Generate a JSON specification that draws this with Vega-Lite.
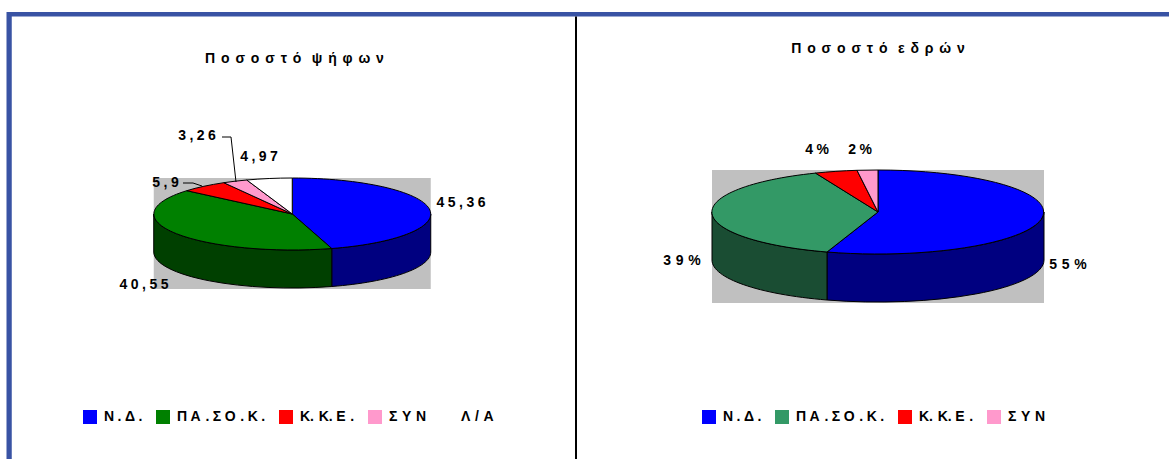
{
"$schema":"https://vega.github.io/schema/vega-lite/v6.json",
"width":1169,"height":459,"padding":0,"autosize":{"type":"none"},"background":"white",
"config":{"view":{"stroke":null},"text":{"font":"Liberation Sans","fontWeight":"bold","fontSize":14,"color":"#000000"}},
"datasets":{
"rows":[
{"panel":"Ποσοστό ψήφων","key":"frame","face":"frame"},
{"panel":"Ποσοστό ψήφων","key":"divider","face":"frame"},
{"panel":"Ποσοστό ψήφων","key":"L_bg","face":"back"},
{"panel":"Ποσοστό εδρών","key":"R_bg","face":"back"},
{"panel":"Ποσοστό ψήφων","key":"L_nd_side","face":"side"},
{"panel":"Ποσοστό ψήφων","key":"L_pasok_side","face":"side"},
{"panel":"Ποσοστό εδρών","key":"R_nd_side","face":"side"},
{"panel":"Ποσοστό εδρών","key":"R_pasok_side","face":"side"},
{"panel":"Ποσοστό ψήφων","key":"L_nd","face":"top","party":"Ν\u2005.\u2005Δ\u2005.","value":45.36,"label":"4\u20055\u2005,\u20053\u20056"},
{"panel":"Ποσοστό ψήφων","key":"L_pasok","face":"top","party":"Π\u2005Α\u2004.\u2005Σ\u2005Ο\u2004.\u2005Κ\u2005.","value":40.55,"label":"4\u20050\u2005,\u20055\u20055"},
{"panel":"Ποσοστό ψήφων","key":"L_kke","face":"top","party":"Κ.\u2004Κ.\u2005Ε\u2004.","value":5.9,"label":"5\u2005,\u20059"},
{"panel":"Ποσοστό ψήφων","key":"L_syn","face":"top","party":"Σ\u2004Υ\u2004Ν","value":3.26,"label":"3\u2005,\u20052\u20056"},
{"panel":"Ποσοστό ψήφων","key":"L_la","face":"top","party":"Λ\u2004/\u2004Α","value":4.97,"label":"4\u2005,\u20059\u20057"},
{"panel":"Ποσοστό εδρών","key":"R_nd","face":"top","party":"Ν\u2005.\u2005Δ\u2005.","value":55,"label":"5\u20045\u2004%"},
{"panel":"Ποσοστό εδρών","key":"R_pasok","face":"top","party":"Π\u2005Α\u2004.\u2005Σ\u2005Ο\u2004.\u2005Κ\u2005.","value":39,"label":"3\u20049\u2004%"},
{"panel":"Ποσοστό εδρών","key":"R_kke","face":"top","party":"Κ.\u2004Κ.\u2005Ε\u2004.","value":4,"label":"4\u2005%"},
{"panel":"Ποσοστό εδρών","key":"R_syn","face":"top","party":"Σ\u2004Υ\u2004Ν","value":2,"label":"2\u2005%"},
{"panel":"Ποσοστό ψήφων","key":"lead_syn","face":"leader"},
{"panel":"Ποσοστό ψήφων","key":"lead_kke","face":"leader"},
{"panel":"Ποσοστό ψήφων","key":"title_L","face":"title","label":"Π\u2004\u200Aο\u2004\u200Aσ\u2004\u200Aο\u2004\u200Aσ\u2004\u200Aτ\u2004\u200Aό\u2004\u2004\u200Aψ\u2004\u200Aή\u2004\u200Aφ\u2004\u200Aω\u2004\u200Aν"},
{"panel":"Ποσοστό εδρών","key":"title_R","face":"title","label":"Π\u2004\u200Aο\u2004\u200Aσ\u2004\u200Aο\u2004\u200Aσ\u2004\u200Aτ\u2004\u200Aό\u2004\u2004\u200Aε\u2004\u200Aδ\u2004\u200Aρ\u2004\u200Aώ\u2004\u200Aν"}
]},
"data":{"name":"rows"},
"encoding":{"x":{"field":"panel","type":"nominal","axis":null,"scale":{"domain":["Ποσοστό ψήφων","Ποσοστό εδρών"]}}},
"resolve":{"scale":{"color":"independent","shape":"independent"}},
"layer":[
{"transform":[{"filter":"datum.face==='frame'||datum.face==='back'"}],
 "mark":{"type":"point","filled":true,"size":4,"opacity":1},
 "encoding":{
  "shape":{"field":"key","type":"nominal","legend":null,"scale":{
   "domain":["frame","divider","L_bg","R_bg"],
   "range":[
    "M-285.75,-217.5L876.75,-217.5L876.75,-213L-280.5,-213L-280.5,229.5L-285.75,229.5Z",
    "M282.75,-213L284.75,-213L284.75,229.5L282.75,229.5Z",
    "M-138.5,-51.5L138.5,-51.5L138.5,59.5L-138.5,59.5Z",
    "M-164.75,-59.5L167.25,-59.5L167.25,73.5L-164.75,73.5Z"
   ]}},
  "color":{"field":"key","type":"nominal","legend":null,"scale":{
   "domain":["frame","divider","L_bg","R_bg"],
   "range":["#3953A4","#000000","#C0C0C0","#C0C0C0"]}}
 }},
{"transform":[{"filter":"datum.face==='side'"}],
 "mark":{"type":"point","filled":true,"size":4,"opacity":1,"stroke":"#000000","strokeWidth":1},
 "encoding":{
  "shape":{"field":"key","type":"nominal","legend":null,"scale":{
   "domain":["L_nd_side","L_pasok_side","R_nd_side","R_pasok_side"],
   "range":[
    "M39.5,19A138.5,36 0 0 0 138.5,-15.5L138.5,22.5A138.5,36 0 0 1 39.5,57Z",
    "M-138.5,-15.5A138.5,36 0 0 0 39.5,19L39.5,57A138.5,36 0 0 1 -138.5,22.5Z",
    "M-49.75,22.5A166,42 0 0 0 167.25,-17.5L167.25,30.5A166,42 0 0 1 -49.75,70.5Z",
    "M-164.75,-17.5A166,42 0 0 0 -49.75,22.5L-49.75,70.5A166,42 0 0 1 -164.75,30.5Z"
   ]}},
  "color":{"field":"key","type":"nominal","legend":null,"scale":{
   "domain":["L_nd_side","L_pasok_side","R_nd_side","R_pasok_side"],
   "range":["#000080","#004000","#000080","#1A4D33"]}}
 }},
{"transform":[{"filter":"datum.panel==='Ποσοστό ψήφων'&&datum.face==='top'"}],
 "mark":{"type":"point","filled":true,"size":4,"opacity":1,"stroke":"#000000","strokeWidth":1},
 "encoding":{
  "shape":{"field":"key","type":"nominal","legend":null,"scale":{
   "domain":["L_nd","L_pasok","L_kke","L_syn","L_la"],
   "range":[
    "M0,-15.5L0,-51.5A138.5,36 0 0 1 39.5,19Z",
    "M0,-15.5L39.5,19A138.5,36 0 0 1 -105.5,-38.8Z",
    "M0,-15.5L-105.5,-38.8A138.5,36 0 0 1 -68.5,-46.8Z",
    "M0,-15.5L-68.5,-46.8A138.5,36 0 0 1 -45.5,-49.5Z",
    "M0,-15.5L-45.5,-49.5A138.5,36 0 0 1 0,-51.5Z"
   ]}},
  "color":{"field":"party","type":"nominal","sort":null,
   "scale":{"domain":["Ν\u2005.\u2005Δ\u2005.","Π\u2005Α\u2004.\u2005Σ\u2005Ο\u2004.\u2005Κ\u2005.","Κ.\u2004Κ.\u2005Ε\u2004.","Σ\u2004Υ\u2004Ν","Λ\u2004/\u2004Α"],"range":["#0000FF","#008000","#FF0000","#FF99CC","#FFFFFF"]},
   "legend":{"title":null,"orient":"none","legendX":83,"legendY":410,"direction":"horizontal","columns":5,"gridAlign":"none","columnPadding":13,"symbolType":"square","symbolSize":196,"symbolStrokeWidth":0,"labelFont":"Liberation Sans","labelFontWeight":"bold","labelFontSize":14,"labelColor":"#000000","labelOffset":7,"labelLimit":300,"padding":0}}
 }},
{"transform":[{"filter":"datum.panel==='Ποσοστό εδρών'&&datum.face==='top'"}],
 "mark":{"type":"point","filled":true,"size":4,"opacity":1,"stroke":"#000000","strokeWidth":1},
 "encoding":{
  "shape":{"field":"key","type":"nominal","legend":null,"scale":{
   "domain":["R_nd","R_pasok","R_kke","R_syn"],
   "range":[
    "M1.25,-17.5L1.25,-59.5A166,42 0 1 1 -49.75,22.5Z",
    "M1.25,-17.5L-49.75,22.5A166,42 0 0 1 -61.25,-56.4Z",
    "M1.25,-17.5L-61.25,-56.4A166,42 0 0 1 -19.75,-59.2Z",
    "M1.25,-17.5L-19.75,-59.2A166,42 0 0 1 1.25,-59.5Z"
   ]}},
  "color":{"field":"party","type":"nominal","sort":null,
   "scale":{"domain":["Ν\u2005.\u2005Δ\u2005.","Π\u2005Α\u2004.\u2005Σ\u2005Ο\u2004.\u2005Κ\u2005.","Κ.\u2004Κ.\u2005Ε\u2004.","Σ\u2004Υ\u2004Ν"],"range":["#0000FF","#339966","#FF0000","#FF99CC"]},
   "legend":{"title":null,"orient":"none","legendX":702,"legendY":410,"direction":"horizontal","columns":4,"gridAlign":"none","columnPadding":13,"symbolType":"square","symbolSize":196,"symbolStrokeWidth":0,"labelFont":"Liberation Sans","labelFontWeight":"bold","labelFontSize":14,"labelColor":"#000000","labelOffset":7,"labelLimit":300,"padding":0}}
 }},
{"transform":[{"filter":"datum.face==='leader'"}],
 "mark":{"type":"point","filled":false,"size":4,"opacity":1,"stroke":"#000000","strokeWidth":1},
 "encoding":{"shape":{"field":"key","type":"nominal","legend":null,"scale":{
  "domain":["lead_syn","lead_kke"],
  "range":["M-70.25,-92.5L-61.25,-92.5L-56.25,-47.5","M-109.25,-46.5L-99.25,-46.5L-90.25,-43.5"]}}}},
{"transform":[{"filter":"datum.key==='title_L'"}],"mark":{"type":"text","dx":2.25,"dy":-171},"encoding":{"text":{"field":"label"}}},
{"transform":[{"filter":"datum.key==='title_R'"}],"mark":{"type":"text","dx":1.25,"dy":-180.5},"encoding":{"text":{"field":"label"}}},
{"transform":[{"filter":"datum.key==='L_nd'"}],"mark":{"type":"text","dx":168.75,"dy":-26.5},"encoding":{"text":{"field":"label"}}},
{"transform":[{"filter":"datum.key==='L_pasok'"}],"mark":{"type":"text","dx":-148.25,"dy":55.5},"encoding":{"text":{"field":"label"}}},
{"transform":[{"filter":"datum.key==='L_kke'"}],"mark":{"type":"text","dx":-126.75,"dy":-47},"encoding":{"text":{"field":"label"}}},
{"transform":[{"filter":"datum.key==='L_syn'"}],"mark":{"type":"text","dx":-95.25,"dy":-93.5},"encoding":{"text":{"field":"label"}}},
{"transform":[{"filter":"datum.key==='L_la'"}],"mark":{"type":"text","dx":-33.25,"dy":-72.5},"encoding":{"text":{"field":"label"}}},
{"transform":[{"filter":"datum.key==='R_nd'"}],"mark":{"type":"text","dx":191.25,"dy":35.5},"encoding":{"text":{"field":"label"}}},
{"transform":[{"filter":"datum.key==='R_pasok'"}],"mark":{"type":"text","dx":-194.75,"dy":31.5},"encoding":{"text":{"field":"label"}}},
{"transform":[{"filter":"datum.key==='R_kke'"}],"mark":{"type":"text","dx":-59.75,"dy":-79.5},"encoding":{"text":{"field":"label"}}},
{"transform":[{"filter":"datum.key==='R_syn'"}],"mark":{"type":"text","dx":-16.75,"dy":-79.5},"encoding":{"text":{"field":"label"}}}
]
}
